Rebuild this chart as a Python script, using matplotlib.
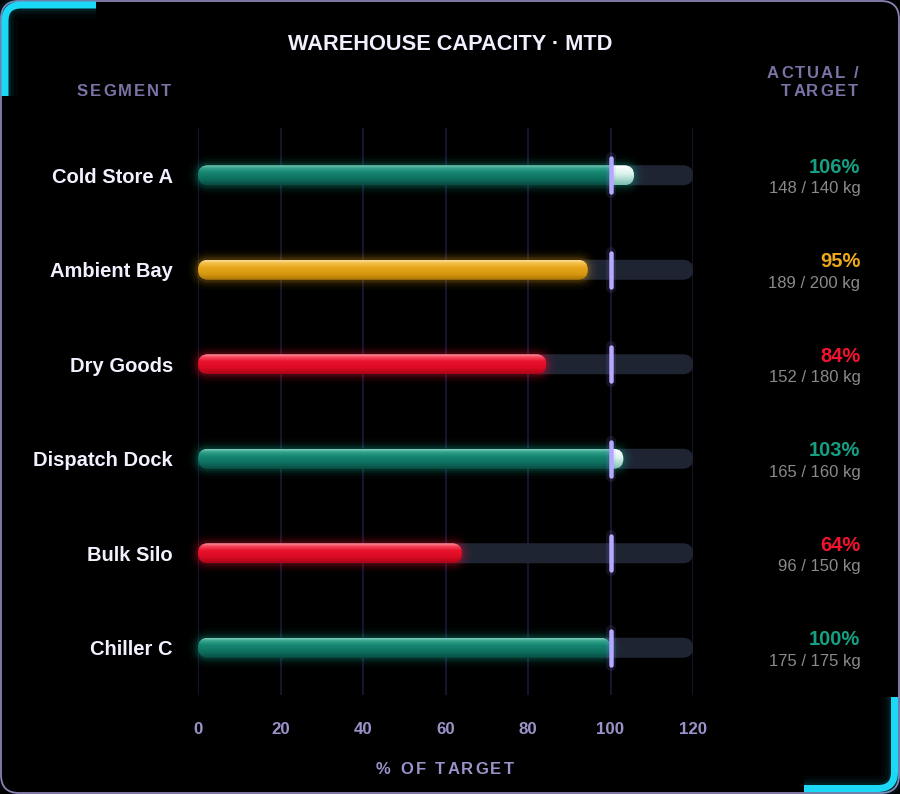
import matplotlib
matplotlib.use('Agg')
import matplotlib.pyplot as plt
import numpy as np
from matplotlib.patches import FancyBboxPatch, PathPatch
from matplotlib.path import Path
from matplotlib.colors import LinearSegmentedColormap
from matplotlib.font_manager import FontProperties

# ---------------- data ----------------
segments = ["Cold Store A", "Ambient Bay", "Dry Goods", "Dispatch Dock", "Bulk Silo", "Chiller C"]
actual_kg = [148, 189, 152, 165, 96, 175]
target_kg = [140, 200, 180, 160, 150, 175]
x_ticks = [0, 20, 40, 60, 80, 100, 120]
x_max = 120
target_pct = 100
title_text = "WAREHOUSE CAPACITY · MTD"
xlabel_text = "% OF TARGET"
left_header = "SEGMENT"
right_header = ["ACTUAL /", "TARGET"]

FAM = ['Liberation Sans', 'DejaVu Sans']
plt.rcParams['font.family'] = FAM

W, H = 900, 794
fig = plt.figure(figsize=(W / 100, H / 100), dpi=100, facecolor='black')
renderer = fig.canvas.get_renderer()
PT = 0.72  # points per pixel

# ---------------- background card ----------------
bg = fig.add_axes([0, 0, 1, 1], zorder=0)
bg.set_xlim(0, W)
bg.set_ylim(H, 0)
bg.axis('off')
card = FancyBboxPatch((1, 1), W - 2, H - 2, boxstyle='round,pad=0,rounding_size=18',
                      fc='black', ec='#8c82b5', lw=1.3)
bg.add_patch(card)

codes = [Path.MOVETO, Path.LINETO, Path.CURVE3, Path.CURVE3, Path.LINETO]
tl = Path([(96, 5), (21, 5), (5, 5), (5, 21), (5, 96)], codes)
br = Path([(894.5, 697), (894.5, 772), (894.5, 788.5), (878, 788.5), (804, 788.5)], codes)
for p in (tl, br):
    for lw, a in [(26, 0.03), (18, 0.05), (12, 0.08)]:
        bg.add_patch(PathPatch(p, fc='none', ec='#19d4f2', lw=lw * PT, alpha=a, capstyle='butt'))
    bg.add_patch(PathPatch(p, fc='none', ec='#1ad8f6', lw=7 * PT, capstyle='butt'))

# ---------------- main axes ----------------
ax_l, ax_r, ax_t, ax_b = 198, 693, 128, 695
ax = fig.add_axes([ax_l / W, 1 - ax_b / H, (ax_r - ax_l) / W, (ax_b - ax_t) / H], zorder=1)
ax.patch.set_alpha(0)
n = len(segments)
ax.set_xlim(0, x_max)
ax.set_ylim(n - 0.5, -0.5)

xpp = x_max / (ax_r - ax_l)
ypp = n / (ax_b - ax_t)
bar_h = 20 * ypp
rad = 10 * xpp
m_aspect = ypp / xpp

def rbox(x0, x1, yc, **kw):
    return FancyBboxPatch((x0, yc - bar_h / 2), x1 - x0, bar_h,
                          boxstyle=f'round,pad=0,rounding_size={rad}',
                          mutation_aspect=m_aspect, **kw)

ax.set_xticks(x_ticks)
ax.set_xticklabels([str(t) for t in x_ticks])
ax.set_yticks(range(n))
ax.set_yticklabels(segments)
ax.grid(axis='x', color='#1d1638', lw=1.2)
ax.grid(axis='y', visible=False)
ax.set_axisbelow(True)
for s in ax.spines.values():
    s.set_visible(False)
ax.tick_params(axis='x', length=0, pad=19.5, labelsize=12.2, labelcolor='#9a92c8')
ax.tick_params(axis='y', length=0, pad=18, labelsize=14.5, labelcolor='#f3f1ff')
for lab in ax.get_xticklabels():
    lab.set_fontweight('bold')
for lab in ax.get_yticklabels():
    lab.set_fontweight('bold')

palette = {
    'good': dict(stops=['#7cccb9', '#35a38c', '#158672', '#0d6d5d', '#094c42'],
                 glow='#14b394', text='#15a083'),
    'warn': dict(stops=['#ffdc96', '#f4c14c', '#e8a81e', '#d6960f', '#a87408'],
                 glow='#f2aa18', text='#eea819'),
    'bad': dict(stops=['#ff95a2', '#f54a5e', '#ea132e', '#d80a22', '#a80618'],
                glow='#ff1535', text='#f2142f'),
}
cap_cmap = LinearSegmentedColormap.from_list('cap', [(0, '#ffffff'), (0.45, '#d8f2ea'), (1, '#78bfae')])
pos = [0, 0.14, 0.36, 0.72, 1]

ny = 60
tcol = np.linspace(0, 1, ny)
label_tf = (fig.transFigure, ax.transData)

for i, (a, t) in enumerate(zip(actual_kg, target_kg)):
    v = a / t * 100
    pct = int(a * 100 / t + 0.5)
    status = 'good' if pct >= 100 else ('warn' if pct >= 90 else 'bad')
    pal = palette[status]

    # track
    ax.add_patch(rbox(0, x_max, i, fc='#1f2433', ec='none', zorder=2))
    # glow
    for lw, al in [(20, 0.03), (14, 0.05), (9, 0.08), (5, 0.12)]:
        ax.add_patch(rbox(0, v, i, fc='none', ec=pal['glow'], lw=lw * PT, alpha=al,
                          zorder=3, clip_on=False))
    # gradient fill
    cmap = LinearSegmentedColormap.from_list('c%d' % i, list(zip(pos, pal['stops'])))
    nx = 400
    xs = np.linspace(0, v, nx)
    main = cmap(tcol)[:, None, :]
    capc = cap_cmap(tcol)[:, None, :]
    img = np.where((xs >= target_pct)[None, :, None], capc, main)
    img = np.broadcast_to(img, (ny, nx, 4)).copy()
    clip = rbox(0, v, i, fc='none', ec='none', zorder=4)
    ax.add_patch(clip)
    im = ax.imshow(img, extent=[0, v, i + bar_h / 2, i - bar_h / 2], aspect='auto',
                   interpolation='bilinear', zorder=4)
    im.set_clip_path(clip)

    # target marker
    ax.plot([target_pct, target_pct], [i - 18 * ypp, i + 18 * ypp], color='#9d8cff',
            lw=10 * PT, alpha=0.12, solid_capstyle='round', zorder=5, clip_on=False)
    ax.plot([target_pct, target_pct], [i - 17 * ypp, i + 17 * ypp], color='#b5a8ff',
            lw=4.5 * PT, solid_capstyle='round', zorder=6, clip_on=False)

    # right labels
    ax.annotate(f"{pct}%", xy=(860.5 / W, i), xycoords=label_tf, xytext=(0, 2.5),
                textcoords='offset pixels', ha='right', va='baseline', fontsize=14.5,
                fontweight='bold', color=pal['text'], annotation_clip=False)
    ax.annotate(f"{a} / {t} kg", xy=(860.5 / W, i), xycoords=label_tf, xytext=(0, -18),
                textcoords='offset pixels', ha='right', va='baseline', fontsize=12,
                color='#8a8a8a', annotation_clip=False)

ax.set_xlim(0, x_max)
ax.set_ylim(n - 0.5, -0.5)

# ---------------- letter-spaced texts ----------------
def adv(s, fp):
    w1 = renderer.get_text_width_height_descent('|' + s + '|', fp, ismath=False)[0]
    w0 = renderer.get_text_width_height_descent('||', fp, ismath=False)[0]
    return w1 - w0

def spaced(x_px, y_px, s, size, color, sp_px, ha='left', weight='bold'):
    fp = FontProperties(family=FAM, size=size, weight=weight)
    total = adv(s, fp) + sp_px * (len(s) - 1)
    if ha == 'left':
        x0 = x_px
    elif ha == 'right':
        x0 = x_px - total
    else:
        x0 = x_px - total / 2
    for k, c in enumerate(s):
        if c == ' ':
            continue
        xk = x0 + adv(s[:k], fp) + k * sp_px
        fig.text(xk / W, 1 - y_px / H, c, fontproperties=fp, color=color,
                 ha='left', va='baseline')

fig.text(0.5, 1 - 49.5 / H, title_text, ha='center', va='baseline', fontsize=15.7,
         fontweight='bold', color='#f2f0ff')
spaced(171, 96.5, left_header, 12, '#7b72a6', 2.0, ha='right')
spaced(858, 78.5, right_header[0], 12, '#7b72a6', 2.0, ha='right')
spaced(858, 96.5, right_header[1], 12, '#7b72a6', 2.0, ha='right')
spaced(445, 774, xlabel_text, 12, '#9a92c8', 2.4, ha='center')

fig.savefig('out.png', dpi=100, facecolor='black')
